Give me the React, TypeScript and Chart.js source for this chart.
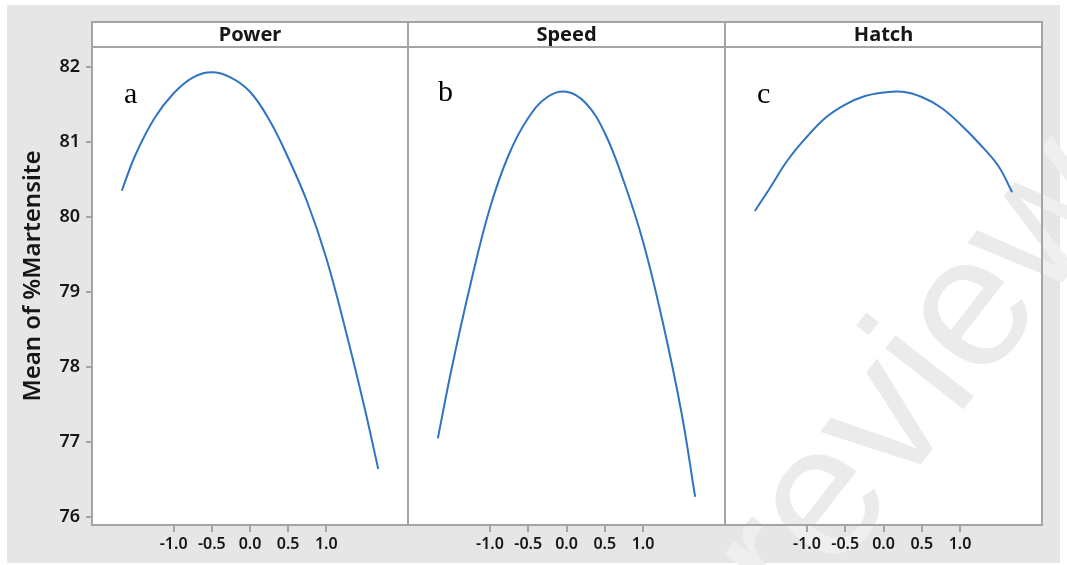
import React, { useEffect, useRef } from 'react';
import { Chart, registerables } from 'chart.js';

Chart.register(...registerables);

// ---- data ----
const factorLevels = [-1.68, -1.5, -1.25, -1.0, -0.75, -0.5, -0.25, 0, 0.25, 0.5, 0.75, 1.0, 1.25, 1.5, 1.68];
const powerMeans = [80.35, 80.83, 81.32, 81.65, 81.86, 81.93, 81.86, 81.67, 81.3, 80.79, 80.2, 79.45, 78.5, 77.46, 76.64];
const speedMeans = [77.05, 77.98, 79.12, 80.12, 80.84, 81.32, 81.6, 81.67, 81.52, 81.12, 80.47, 79.67, 78.63, 77.4, 76.27];
const hatchMeans = [80.08, 80.36, 80.76, 81.07, 81.33, 81.5, 81.61, 81.66, 81.67, 81.6, 81.46, 81.24, 80.98, 80.68, 80.33];
const panelTitles = ['Power', 'Speed', 'Hatch'];
const panelLetters = ['a', 'b', 'c'];
const xTickValues = [-1.0, -0.5, 0.0, 0.5, 1.0];
const yTickValues = [76, 77, 78, 79, 80, 81, 82];
const yAxisTitle = 'Mean of %Martensite';
const watermarkText = 'review';

const seriesList = [powerMeans, speedMeans, hatchMeans];

// ---- layout / style ----
const W = 1067;
const H = 565;
const EDGES = [92, 408, 725, 1042];
const HEADER_TOP = 22;
const PLOT_TOP = 47;
const XAXIS_H = 40;
const X_MIN = -2.07;
const X_MAX = 2.07;
const Y_MIN = 75.893;
const Y_MAX = 82.267;
const FRAME = '#a4a4a4';
const TEXT = '#161616';
const LINE = '#2f74c2';
const SANS = '"Noto Sans", "Open Sans", "Liberation Sans", sans-serif';
const LETTER_POS = [
  [124, 103],
  [438, 101],
  [757, 103],
];

function drawWatermark(ctx: CanvasRenderingContext2D) {
  const draw = (color: string) => {
    ctx.save();
    ctx.translate(795, 625);
    ctx.rotate((-52 * Math.PI) / 180);
    ctx.font = '188px "Liberation Sans", Arial, sans-serif';
    ctx.fillStyle = color;
    ctx.textBaseline = 'alphabetic';
    ctx.textAlign = 'left';
    ctx.fillText(watermarkText, 0, 0);
    ctx.restore();
  };
  ctx.save();
  ctx.beginPath();
  ctx.rect(EDGES[0], HEADER_TOP, EDGES[3] - EDGES[0], H - XAXIS_H - HEADER_TOP);
  ctx.clip();
  draw('#ebebeb');
  ctx.restore();
  ctx.save();
  ctx.beginPath();
  ctx.rect(0, 0, W, H);
  ctx.rect(EDGES[0], HEADER_TOP, EDGES[3] - EDGES[0], H - XAXIS_H - HEADER_TOP);
  ctx.clip('evenodd');
  draw('#efefef');
  ctx.restore();
}

function makePanelPlugin(i: number) {
  return {
    id: 'panelDecor' + i,
    beforeDraw(chart: any) {
      const { ctx, chartArea: a } = chart;
      ctx.save();
      ctx.fillStyle = '#ffffff';
      ctx.fillRect(a.left, HEADER_TOP, a.right - a.left, a.bottom - HEADER_TOP);
      ctx.restore();
      if (i === 2) drawWatermark(ctx);
    },
    afterDraw(chart: any) {
      const { ctx, chartArea: a } = chart;
      ctx.save();
      ctx.strokeStyle = FRAME;
      ctx.lineWidth = 2;
      ctx.strokeRect(a.left, HEADER_TOP, a.right - a.left, a.bottom - HEADER_TOP);
      ctx.beginPath();
      ctx.moveTo(a.left, a.top);
      ctx.lineTo(a.right, a.top);
      ctx.stroke();

      ctx.fillStyle = TEXT;
      ctx.font = 'bold 20px ' + SANS;
      ctx.textAlign = 'center';
      ctx.textBaseline = 'alphabetic';
      ctx.fillText(panelTitles[i], (a.left + a.right) / 2, 41);

      ctx.fillStyle = '#000000';
      ctx.font = '30px "Liberation Serif", "Times New Roman", serif';
      ctx.textAlign = 'left';
      ctx.fillText(panelLetters[i], LETTER_POS[i][0], LETTER_POS[i][1]);

      if (i === 0) {
        ctx.save();
        ctx.translate(40, 276);
        ctx.rotate(-Math.PI / 2);
        ctx.fillStyle = TEXT;
        ctx.font = '600 24px ' + SANS;
        ctx.textAlign = 'center';
        ctx.textBaseline = 'alphabetic';
        ctx.fillText(yAxisTitle, 0, 0);
        ctx.restore();
      }
      ctx.restore();
    },
  };
}

function buildConfig(i: number): any {
  const values = seriesList[i];
  return {
    type: 'line',
    data: {
      datasets: [
        {
          label: panelTitles[i],
          data: factorLevels.map((x, j) => ({ x, y: values[j] })),
          borderColor: LINE,
          borderWidth: 2,
          pointRadius: 0,
          fill: false,
          tension: 0.4,
        },
      ],
    },
    options: {
      animation: false,
      responsive: false,
      maintainAspectRatio: false,
      events: [],
      layout: {
        padding: {
          top: PLOT_TOP,
          bottom: 0,
          left: i === 0 ? 0 : EDGES[i],
          right: W - EDGES[i + 1],
        },
      },
      plugins: {
        legend: { display: false },
        tooltip: { enabled: false },
        title: { display: false },
      },
      scales: {
        x: {
          type: 'linear',
          min: X_MIN,
          max: X_MAX,
          afterFit: (s: any) => {
            s.height = XAXIS_H;
          },
          afterBuildTicks: (s: any) => {
            s.ticks = xTickValues.map((v) => ({ value: v }));
          },
          ticks: {
            callback: (v: any) => Number(v).toFixed(1),
            font: { family: SANS, size: 16, weight: '600' },
            color: TEXT,
            padding: 3,
            autoSkip: false,
            maxRotation: 0,
            minRotation: 0,
          },
          grid: {
            display: true,
            drawOnChartArea: false,
            drawTicks: true,
            tickLength: 7,
            color: FRAME,
            lineWidth: 2,
          },
          border: { display: false },
        },
        y: {
          type: 'linear',
          display: i === 0,
          min: Y_MIN,
          max: Y_MAX,
          afterFit: (s: any) => {
            if (i === 0) s.width = EDGES[0];
          },
          afterBuildTicks: (s: any) => {
            s.ticks = yTickValues.map((v) => ({ value: v }));
          },
          ticks: {
            callback: (v: any) => String(v),
            font: { family: SANS, size: 18, weight: '600' },
            color: TEXT,
            padding: 6,
          },
          grid: {
            display: true,
            drawOnChartArea: false,
            drawTicks: true,
            tickLength: 6,
            color: FRAME,
            lineWidth: 2,
          },
          border: { display: false },
        },
      },
    },
    plugins: [makePanelPlugin(i)],
  };
}

export default function App() {
  const refs = [useRef<HTMLCanvasElement>(null), useRef<HTMLCanvasElement>(null), useRef<HTMLCanvasElement>(null)];

  useEffect(() => {
    const charts: Chart[] = [];
    refs.forEach((r, i) => {
      if (r.current) charts.push(new Chart(r.current, buildConfig(i)));
    });
    return () => {
      charts.forEach((c) => c.destroy());
    };
  }, []);

  const canvasStyle: React.CSSProperties = {
    position: 'absolute',
    left: 0,
    top: 0,
    width: W,
    height: H,
  };

  return (
    <div style={{ position: 'absolute', left: 0, top: 0, width: W, height: H, background: '#ffffff', overflow: 'hidden' }}>
      <div style={{ position: 'absolute', left: 7, top: 5, width: 1053, height: 558, background: '#e6e6e6' }} />
      {refs.map((r, i) => (
        <canvas key={i} ref={r} width={W} height={H} style={canvasStyle} />
      ))}
    </div>
  );
}
